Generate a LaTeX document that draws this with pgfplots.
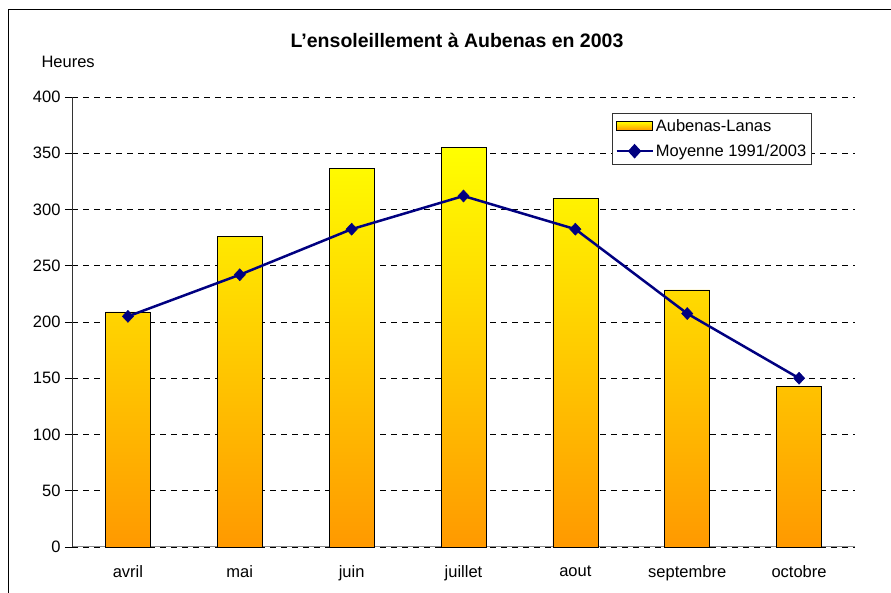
\documentclass[border=0pt]{standalone}
\usepackage{pgfplots}
\pgfplotsset{compat=1.18}
\usepackage{fontspec}
\setmainfont{Liberation Sans}
\definecolor{barYellow}{HTML}{FFFF00}
\definecolor{barOrange}{HTML}{FF9900}
\definecolor{lineNavy}{HTML}{000080}
\begin{document}
\begin{tikzpicture}[x=1pt,y=1pt]
\useasboundingbox (-72,-46) rectangle (819,547);
\draw[black,line width=0.8pt] (-64,-70) -- (-64,538) -- (830,538);
\node[font=\bfseries\fontsize{19.5}{22}\selectfont] at (385,507) {L'ensoleillement à Aubenas en 2003};
\node[anchor=west,font=\fontsize{16.5}{18}\selectfont] at (-34,485) {Heures};
\begin{axis}[
  at={(0,0)}, anchor=south west,
  scale only axis, width=783pt, height=450pt,
  xmin=-0.5, xmax=6.5, ymin=0, ymax=400,
  xtick={0,...,6},
  xticklabels={avril,mai,juin,juillet,aout,septembre,octobre},
  ytick={0,50,...,400},
  ymajorgrids,
  grid style={black,dash pattern=on 6pt off 5pt, line width=0.6pt},
  axis x line*=bottom, axis y line*=left,
  x axis line style={draw=gray!90, line width=1pt, -},
  y axis line style={draw=black!80, line width=0.8pt, -},
  xtick style={draw=none},
  ytick style={black, line width=0.8pt},
  tick align=outside, major tick length=7pt,
  ticklabel style={font=\fontsize{16.5}{18}\selectfont},
  /pgf/number format/assume math mode=true,
  yticklabel style={xshift=-1pt},
  xticklabel style={yshift=-8pt},
  legend style={at={(0.6897,0.964)}, anchor=north west, draw=black!80, line width=0.6pt,
    font=\fontsize{16.5}{18}\selectfont, inner xsep=3pt, inner ysep=4.5pt, row sep=7pt,
    legend cell align=left},
  clip=false,
]
\addplot[ybar, bar width=45pt, draw=black, line width=0.6pt,
  top color=barYellow, bottom color=barOrange,
  area legend, legend image code/.code={\draw[draw=black, line width=0.8pt, top color=barYellow, bottom color=barOrange] (0pt,-3.5pt) rectangle (36pt,5pt);}]
  coordinates {(0,209) (1,276) (2,336.5) (3,355) (4,310) (5,228.5) (6,143)};
\addlegendentry{Aubenas-Lanas}
\addplot[lineNavy, line width=2.5pt, mark=diamond*, mark size=6pt, mark options={fill=lineNavy, line width=0.5pt, xscale=1.25},
  legend image code/.code={\draw[lineNavy, line width=2.5pt] (0pt,0pt) -- (36pt,0pt);
    \fill[lineNavy] (18pt,5.5pt) -- (23pt,0pt) -- (18pt,-5.5pt) -- (13pt,0pt) -- cycle;}]
  coordinates {(0,205) (1,242) (2,282.5) (3,312) (4,282.5) (5,207.5) (6,150)};
\addlegendentry{Moyenne 1991/2003}
\end{axis}
\end{tikzpicture}
\end{document}
